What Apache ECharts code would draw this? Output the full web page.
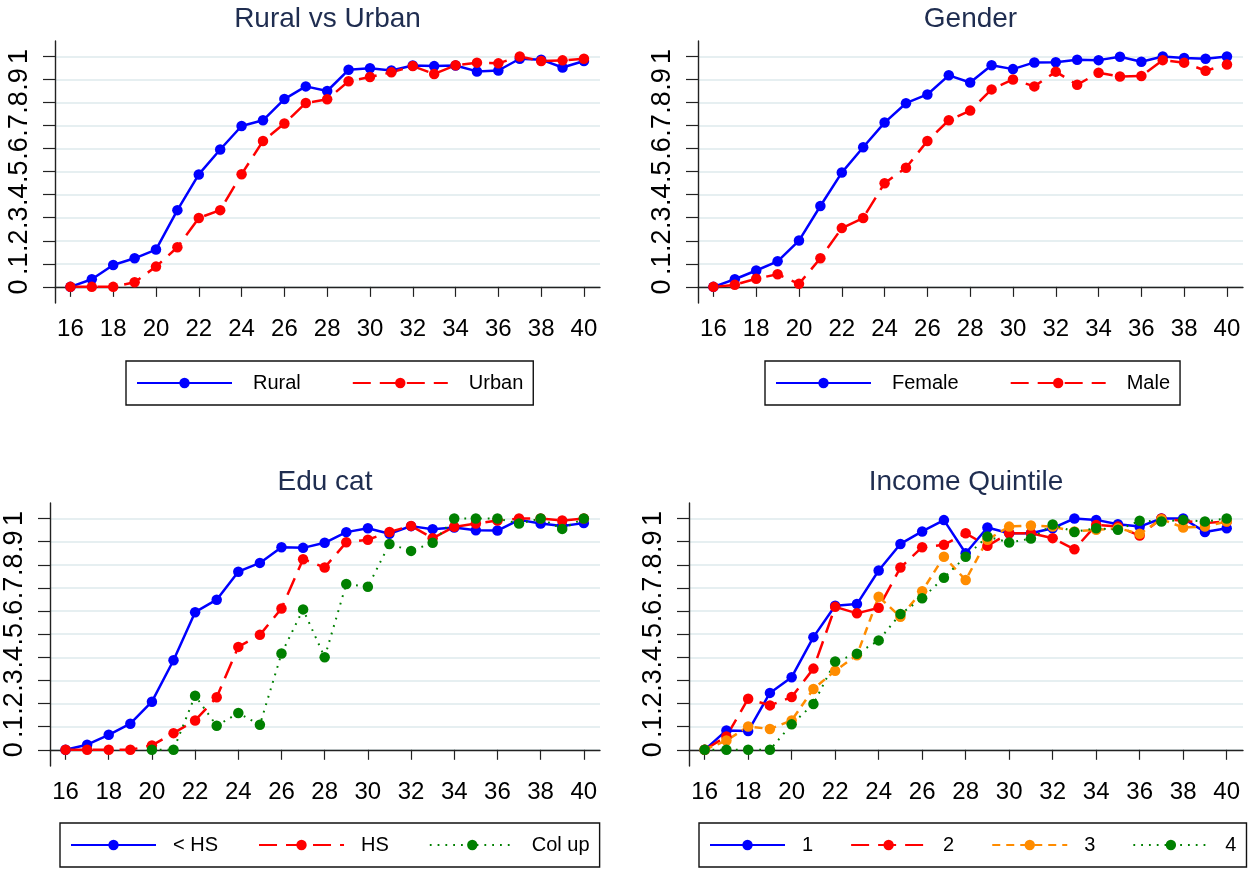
<!DOCTYPE html>
<html>
<head>
<meta charset="utf-8">
<script src="https://cdn.jsdelivr.net/npm/echarts@6/dist/echarts.min.js"></script>
<style>
  html, body { margin: 0; padding: 0; background: #fff; }
  #chart { width: 1252px; height: 871px; }
</style>
</head>
<body>
<div id="chart"></div>
<script>
// Ages on the horizontal axis
const ages = [16, 17, 18, 19, 20, 21, 22, 23, 24, 25, 26, 27, 28, 29, 30, 31, 32, 33, 34, 35, 36, 37, 38, 39, 40];

// Rural vs Urban
const rural = [0, 0.033, 0.095, 0.124, 0.162, 0.333, 0.488, 0.596, 0.698, 0.723, 0.815, 0.870, 0.850, 0.942, 0.949, 0.939, 0.961, 0.958, 0.961, 0.935, 0.939, 0.990, 0.986, 0.952, 0.980];
const urban = [0, 0, 0, 0.020, 0.088, 0.172, 0.299, 0.333, 0.489, 0.633, 0.709, 0.798, 0.814, 0.892, 0.911, 0.931, 0.958, 0.924, 0.962, 0.973, 0.970, 1.000, 0.980, 0.983, 0.990];

// Gender
const female = [0, 0.033, 0.071, 0.111, 0.201, 0.351, 0.496, 0.606, 0.713, 0.797, 0.835, 0.918, 0.887, 0.962, 0.945, 0.974, 0.975, 0.986, 0.984, 0.999, 0.977, 1.000, 0.993, 0.990, 1.000];
const male = [0, 0.009, 0.035, 0.055, 0.013, 0.124, 0.255, 0.299, 0.450, 0.517, 0.633, 0.723, 0.765, 0.857, 0.900, 0.870, 0.934, 0.877, 0.929, 0.913, 0.915, 0.984, 0.973, 0.938, 0.965];

// Education category
const lessHS = [0, 0.022, 0.065, 0.113, 0.208, 0.387, 0.595, 0.649, 0.770, 0.808, 0.876, 0.873, 0.895, 0.941, 0.958, 0.934, 0.967, 0.954, 0.961, 0.949, 0.948, 0.994, 0.978, 0.968, 0.980];
const hs = [0, 0, 0, 0, 0.019, 0.072, 0.127, 0.227, 0.445, 0.497, 0.611, 0.824, 0.788, 0.897, 0.908, 0.942, 0.968, 0.915, 0.964, 0.978, 0.991, 1.000, 1.000, 0.991, 1.000];
const colUp = [null, null, null, null, 0, 0, 0.234, 0.104, 0.159, 0.108, 0.416, 0.607, 0.400, 0.717, 0.705, 0.890, 0.860, 0.895, 1.000, 1.000, 1.000, 0.978, 1.000, 0.955, 1.000];

// Income quintile
const q1 = [0, 0.084, 0.081, 0.246, 0.314, 0.487, 0.623, 0.630, 0.775, 0.890, 0.944, 0.993, 0.850, 0.961, 0.936, 0.936, 0.958, 1.000, 0.994, 0.975, 0.965, 1.000, 1.000, 0.942, 0.958];
const q2 = [0, 0.058, 0.221, 0.192, 0.228, 0.351, 0.618, 0.590, 0.614, 0.788, 0.876, 0.886, 0.936, 0.882, 0.936, 0.936, 0.915, 0.867, 0.972, 0.965, 0.926, 1.000, 0.990, 0.980, 0.987];
const q3 = [0, 0.040, 0.101, 0.090, 0.127, 0.263, 0.342, 0.409, 0.662, 0.575, 0.686, 0.835, 0.734, 0.908, 0.965, 0.970, 0.965, 0.944, 0.951, 0.958, 0.934, 0.997, 0.961, 0.965, 0.987];
const q4 = [0, 0, 0, 0, 0.110, 0.198, 0.382, 0.415, 0.473, 0.587, 0.655, 0.744, 0.835, 0.922, 0.896, 0.913, 0.974, 0.942, 0.958, 0.951, 0.990, 0.987, 0.994, 0.987, 1.000];

// Tick positions and labels
const xTicks = [16, 18, 20, 22, 24, 26, 28, 30, 32, 34, 36, 38, 40];
const yTicks = [0, 0.1, 0.2, 0.3, 0.4, 0.5, 0.6, 0.7, 0.8, 0.9, 1];
const yTickLabels = ['0', '.1', '.2', '.3', '.4', '.5', '.6', '.7', '.8', '.9', '1'];

const panelTitles = ['Rural vs Urban', 'Gender', 'Edu cat', 'Income Quintile'];

const FONT = '"Liberation Sans", Arial, Helvetica, sans-serif';
const BLUE = '#0000ff', RED = '#ff0000', ORANGE = '#ff8c00', GREEN = '#008000';

// Plot areas of the four panels (pixels)
const grids = [
  { left: 55,  top: 41,  width: 545, height: 262 },
  { left: 698, top: 41,  width: 545, height: 262 },
  { left: 50,  top: 503, width: 550, height: 263 },
  { left: 689, top: 503, width: 554, height: 263 }
];

const pair = vals => ages.map((a, i) => [a, vals[i]]);

const styles = {
  solid:     { color: BLUE,   type: 'solid',   width: 2.5 },
  dash:      { color: RED,    type: [18, 9],   width: 2.5 },
  shortdash: { color: ORANGE, type: [8, 6],    width: 2.5 },
  dot:       { color: GREEN,  type: [1.8, 6],  width: 2 }
};

function line(name, vals, idx, st) {
  return {
    type: 'line', name, data: pair(vals),
    xAxisIndex: idx, yAxisIndex: idx,
    symbol: 'circle', symbolSize: 10.5, showAllSymbol: true,
    connectNulls: false,
    itemStyle: { color: st.color },
    lineStyle: { color: st.color, type: st.type, width: st.width },
    emphasis: { disabled: true },
    z: 3
  };
}

const series = [
  line('Rural', rural, 0, styles.solid),
  line('Urban', urban, 0, styles.dash),
  line('Female', female, 1, styles.solid),
  line('Male', male, 1, styles.dash),
  line('< HS', lessHS, 2, styles.solid),
  line('HS', hs, 2, styles.dash),
  line('Col up', colUp, 2, styles.dot),
  line('1', q1, 3, styles.solid),
  line('2', q2, 3, styles.dash),
  line('3', q3, 3, styles.shortdash),
  line('4', q4, 3, styles.dot)
];

const xAxes = grids.map((g, i) => ({
  type: 'value', gridIndex: i, min: 15.28, max: 40.75,
  axisLine: { show: true, lineStyle: { color: '#222', width: 1.4 } },
  axisTick: { show: true, length: 10, lineStyle: { color: '#222', width: 1.2 }, customValues: xTicks },
  axisLabel: { show: true, customValues: xTicks, margin: 14, color: '#000', fontSize: 24, fontFamily: FONT },
  splitLine: { show: false }
}));

const yAxes = grids.map((g, i) => ({
  type: 'value', gridIndex: i, min: -0.07, max: 1.067,
  axisLine: { show: true, lineStyle: { color: '#222', width: 1.4 } },
  axisTick: { show: true, length: 12, lineStyle: { color: '#222', width: 1.2 }, customValues: yTicks },
  axisLabel: {
    show: true, customValues: yTicks, rotate: 90, margin: 22,
    color: '#000', fontSize: 27, fontFamily: FONT, hideOverlap: false,
    formatter: v => yTickLabels[Math.round(v * 10)]
  },
  splitLine: { show: true, lineStyle: { color: '#e6eff1', width: 2 } }
}));

const titles = grids.map((g, i) => ({
  text: panelTitles[i],
  left: g.left + g.width / 2, top: i < 2 ? 5 : 468,
  textAlign: 'center', padding: 0,
  textStyle: { color: '#1f2d50', fontSize: 28, fontWeight: 'normal', fontFamily: FONT }
}));

function legendBox(names, left, top, lineLen, gap, textPad) {
  return {
    data: names, left, top, width: 620, orient: 'horizontal',
    itemWidth: lineLen, itemHeight: 13, itemGap: gap,
    selectedMode: false,
    borderColor: '#111', borderWidth: 1.4,
    padding: [12, 10, 12, 10],
    textStyle: { color: '#000', fontSize: 20, fontFamily: FONT, padding: [0, 0, 0, textPad] }
  };
}

const legends = [
  legendBox(['Rural', 'Urban'], 126, 361, 95, 51, 16),
  legendBox(['Female', 'Male'], 765, 361, 95, 51, 16),
  legendBox(['< HS', 'HS', 'Col up'], 60, 823, 85, 40, 12),
  legendBox(['1', '2', '3', '4'], 699, 823, 75, 37, 12)
];

const chart = echarts.init(document.getElementById('chart'), null, { renderer: 'canvas' });
chart.setOption({
  animation: false,
  backgroundColor: '#fff',
  title: titles,
  legend: legends,
  grid: grids.map(g => Object.assign({ containLabel: false }, g)),
  xAxis: xAxes,
  yAxis: yAxes,
  series
});
</script>
</body>
</html>
